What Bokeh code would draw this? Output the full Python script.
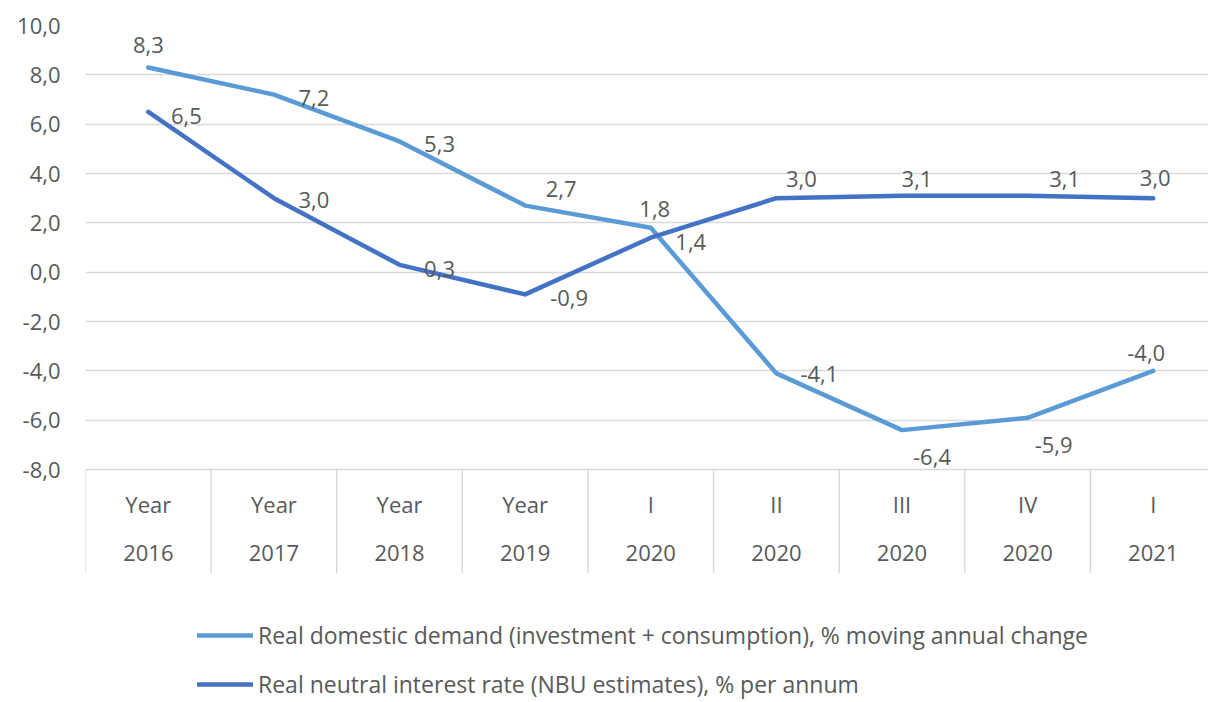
from bokeh.plotting import figure
from bokeh.models import FixedTicker, Legend, LegendItem, ColumnDataSource
from bokeh.core.properties import value
from bokeh.embed import file_html
from bokeh.resources import INLINE

# ---- data ----
cat_top = ["Year", "Year", "Year", "Year", "I", "II", "III", "IV", "I"]
cat_bottom = ["2016", "2017", "2018", "2019", "2020", "2020", "2020", "2020", "2021"]
demand = [8.3, 7.2, 5.3, 2.7, 1.8, -4.1, -6.4, -5.9, -4.0]
rate = [6.5, 3.0, 0.3, -0.9, 1.4, 3.0, 3.1, 3.1, 3.0]
y_ticks = [-8, -6, -4, -2, 0, 2, 4, 6, 8, 10]
name_demand = "Real domestic demand (investment + consumption), % moving annual change"
name_rate = "Real neutral interest rate (NBU estimates), % per annum"

# ---- styling ----
FONT = "Open Sans"
TXT = "#595959"
GRID = "#d9d9d9"
C_DEMAND = "#5B9BD5"
C_RATE = "#4472C4"
FS = "22px"

def fmt(v):
    return f"{v:.1f}".replace(".", ",")

x = list(range(len(cat_top)))

p = figure(width=1208, height=702, output_backend="svg", toolbar_location=None,
           x_range=(-0.5, 8.44), y_range=(-17.44, 10),
           x_axis_location=None, min_border_left=85, min_border_right=0,
           min_border_top=25, min_border_bottom=0)
p.outline_line_color = None
p.xgrid.visible = False

p.yaxis.ticker = FixedTicker(ticks=y_ticks)
p.yaxis.major_label_overrides = {t: fmt(t) for t in y_ticks}
p.yaxis.axis_line_color = None
p.yaxis.major_tick_line_color = None
p.yaxis.minor_tick_line_color = None
p.yaxis.major_tick_out = 0
p.yaxis.major_label_standoff = 25
p.yaxis.major_label_text_font = FONT
p.yaxis.major_label_text_font_size = FS
p.yaxis.major_label_text_color = TXT
p.ygrid.grid_line_color = GRID
p.ygrid.grid_line_width = 1.5

# category separators below the axis
sep_x = [i - 0.5 for i in range(len(cat_top) + 1)]
p.segment(x0=sep_x, y0=[-8] * len(sep_x), x1=sep_x, y1=[-12.2] * len(sep_x),
          line_color=GRID, line_width=1.5)
p.text(x=x, y=[-9.4] * len(x), text=cat_top, text_font=value(FONT),
       text_font_size=FS, text_color=TXT, text_align="center", text_baseline="middle")
p.text(x=x, y=[-11.4] * len(x), text=cat_bottom, text_font=value(FONT),
       text_font_size=FS, text_color=TXT, text_align="center", text_baseline="middle")

r_dem = p.line(x, demand, line_color=C_DEMAND, line_width=4.5, line_cap="round", line_join="round")
r_rate = p.line(x, rate, line_color=C_RATE, line_width=4.5, line_cap="round", line_join="round")

# data labels (pixel offsets from point)
dem_dx = [0, 40, 40, 36, 4, 43, 30, 26, -7]
dem_dy = [-22, 3, 3, -17, -19, 1, 27, 27, -18]
rate_dx = [38, 40, 40, 44, 40, 25, 15, 37, 2]
rate_dy = [4, 2, 4, 4, 4, -19, -17, -17, -20]

src_d = ColumnDataSource(dict(x=x, y=demand, t=[fmt(v) for v in demand], dx=dem_dx, dy=dem_dy))
src_r = ColumnDataSource(dict(x=x, y=rate, t=[fmt(v) for v in rate], dx=rate_dx, dy=rate_dy))
for s in (src_d, src_r):
    p.text(x="x", y="y", text="t", x_offset="dx", y_offset="dy", source=s,
           text_font=value(FONT), text_font_size=FS, text_color=TXT,
           text_align="center", text_baseline="middle")

legend = Legend(items=[LegendItem(label=name_demand, renderers=[r_dem]),
                       LegendItem(label=name_rate, renderers=[r_rate])],
                location=(112, 2), orientation="vertical",
                label_text_font=FONT, label_text_font_size="23px", label_text_color=TXT,
                glyph_width=56, glyph_height=20, label_standoff=5, spacing=17,
                padding=0, margin=0, border_line_color=None, background_fill_alpha=0)
p.add_layout(legend, "center")

open("out.html", "w").write(file_html(p, INLINE))
